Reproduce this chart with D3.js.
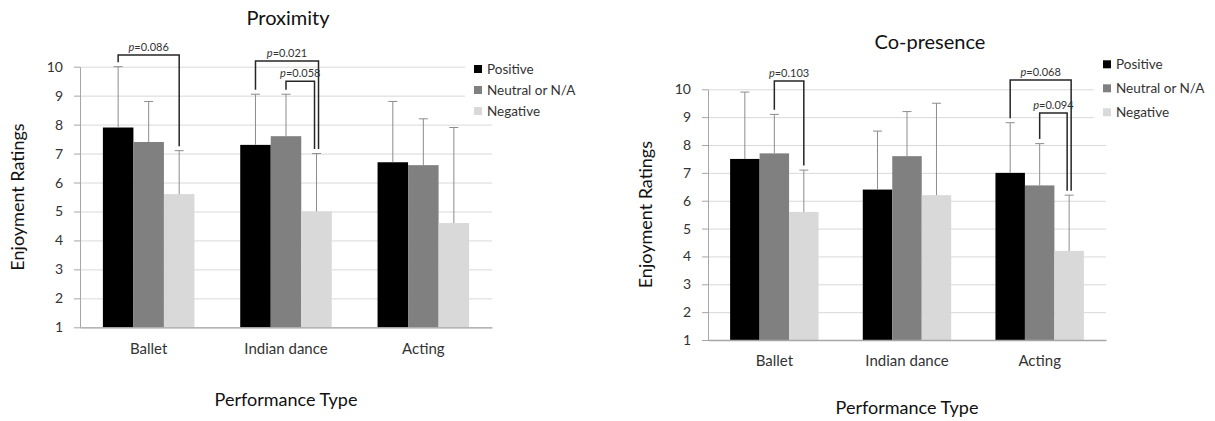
<!DOCTYPE html>
<html>
<head>
<meta charset="utf-8">
<script src="https://cdn.jsdelivr.net/npm/d3@7"></script>
<style>
body { margin:0; background:#ffffff; }
svg { display:block; font-family:Lato, "Open Sans", sans-serif; }
</style>
</head>
<body>
<svg id="chart" width="1215" height="421"></svg>
<script>

// --------------------------------
// data
// --------------------------------

var categories = ["Ballet", "Indian dance", "Acting"];
var seriesNames = ["Positive", "Neutral or N/A", "Negative"];
var yTicks = [1, 2, 3, 4, 5, 6, 7, 8, 9, 10];

// Proximity : mean rating per category, one value per series
var proximityMeans = [
	[7.9, 7.4, 5.6],
	[7.3, 7.6, 5.0],
	[6.7, 6.6, 4.6]
];
// upper error bar (SD)
var proximityErr = [
	[2.1, 1.4, 1.5],
	[1.75, 1.45, 2.0],
	[2.1, 1.6, 3.3]
];
// significance brackets, level in rating units
var proximityTests = [
	{group:"Ballet", from:"Positive", to:"Negative", level:10.4, p:"0.086"},
	{group:"Indian dance", from:"Positive", to:"Negative", level:10.2, p:"0.021"},
	{group:"Indian dance", from:"Neutral or N/A", to:"Negative", level:9.5, p:"0.058"}
];

// Co-presence
var copresenceMeans = [
	[7.5, 7.7, 5.6],
	[6.4, 7.6, 6.2],
	[7.0, 6.55, 4.2]
];
var copresenceErr = [
	[2.4, 1.4, 1.5],
	[2.1, 1.6, 3.3],
	[1.8, 1.5, 2.0]
];
var copresenceTests = [
	{group:"Ballet", from:"Neutral or N/A", to:"Negative", level:10.3, p:"0.103"},
	{group:"Acting", from:"Positive", to:"Negative", level:10.33, p:"0.068"},
	{group:"Acting", from:"Neutral or N/A", to:"Negative", level:9.15, p:"0.094"}
];

// --------------------------------
// styles
// --------------------------------

var barColors = ["#000000", "#808080", "#d9d9d9"];
var gridColor = "#d9d9d9";
var axisColor = "#a6a6a6";
var errColor = "#8c8c8c";
var textColor = "#333333";

var svg = d3.select("#chart");

// --------------------------------------------------
// draw one panel
// --------------------------------------------------

var drawPanel = function(opt){

	var g = svg.append("g");

	var x = d3.scaleBand()
		.domain(categories)
		.range([opt.left, opt.right])
		.paddingInner(1/3)
		.paddingOuter(1/6);

	var xs = d3.scaleBand()
		.domain(seriesNames)
		.range([0, x.bandwidth()]);

	var y = d3.scaleLinear()
		.domain([1, 10])
		.range([opt.bottom, opt.top]);

	// gridlines
	g.append("g")
		.attr("transform", "translate(" + opt.left + ",0)")
		.call(d3.axisLeft(y).tickValues(yTicks).tickSize(-(opt.right - opt.left)).tickFormat(""))
		.call(function(s){
			s.select(".domain").remove();
			s.selectAll("line").attr("stroke", gridColor);
		});

	// legend sits on a white box over the upper gridlines
	g.append("rect")
		.attr("x", opt.legendX - 9)
		.attr("y", opt.legendY - 13)
		.attr("width", 140)
		.attr("height", opt.legendStep * 2 + 22)
		.attr("fill", "#ffffff");

	seriesNames.forEach(function(name, i){
		var ly = opt.legendY + i * opt.legendStep;
		g.append("rect")
			.attr("x", opt.legendX)
			.attr("y", ly - 4)
			.attr("width", 8)
			.attr("height", 8)
			.attr("fill", barColors[i]);
		g.append("text")
			.attr("x", opt.legendX + 13)
			.attr("y", ly)
			.attr("dy", "0.35em")
			.attr("font-size", 13.5)
			.attr("fill", textColor)
			.text(name);
	});

	// y axis
	g.append("g")
		.attr("transform", "translate(" + opt.left + ",0)")
		.call(d3.axisLeft(y).tickValues(yTicks).tickSize(6).tickPadding(11).tickSizeOuter(0))
		.call(function(s){
			s.select(".domain").attr("stroke", axisColor);
			s.selectAll("line").attr("stroke", axisColor);
			s.selectAll("text").attr("font-size", 14).attr("fill", textColor).attr("font-family", "Lato");
		});

	// bars
	var groups = g.selectAll(".grp")
		.data(opt.means)
		.enter().append("g")
		.attr("transform", function(d, i){ return "translate(" + x(categories[i]) + ",0)"; });

	groups.selectAll("rect")
		.data(function(d){ return d; })
		.enter().append("rect")
		.attr("x", function(d, j){ return xs(seriesNames[j]); })
		.attr("y", function(d){ return y(d); })
		.attr("width", xs.bandwidth())
		.attr("height", function(d){ return y(1) - y(d); })
		.attr("fill", function(d, j){ return barColors[j]; });

	// x axis
	g.append("g")
		.attr("transform", "translate(0," + opt.bottom + ")")
		.call(d3.axisBottom(x).tickSize(0).tickPadding(opt.catPad).tickSizeOuter(0))
		.call(function(s){
			s.select(".domain").attr("stroke", axisColor).attr("stroke-width", 1.3);
			s.selectAll("text").attr("font-size", 15).attr("fill", textColor).attr("font-family", "Lato");
		});

	// error bars, upward only
	opt.means.forEach(function(row, i){
		row.forEach(function(m, j){
			var cx = x(categories[i]) + xs(seriesNames[j]) + xs.bandwidth() / 2;
			var yTop = y(m + opt.err[i][j]);
			g.append("line")
				.attr("x1", cx).attr("x2", cx)
				.attr("y1", y(m)).attr("y2", yTop)
				.attr("stroke", errColor);
			g.append("line")
				.attr("x1", cx - 4.5).attr("x2", cx + 4.5)
				.attr("y1", yTop).attr("y2", yTop)
				.attr("stroke", errColor);
		});
	});

	// significance brackets
	opt.tests.forEach(function(t){
		var gi = categories.indexOf(t.group);
		var a = seriesNames.indexOf(t.from);
		var b = seriesNames.indexOf(t.to);
		// nested brackets ending on the same bar are pushed apart a little
		var same = opt.tests.filter(function(o){ return o.group == t.group && o.to == t.to; })
			.sort(function(p, q){ return p.level - q.level; });
		var shift = same.length > 1 ? (same.indexOf(t) - (same.length - 1) / 2) * 4 : 0;
		var xa = x(t.group) + xs(t.from) + xs.bandwidth() / 2;
		var xb = x(t.group) + xs(t.to) + xs.bandwidth() / 2 + shift;
		var yl = y(t.level);
		var ya = y(opt.means[gi][a] + opt.err[gi][a]) - 4.5;
		var yb = y(opt.means[gi][b] + opt.err[gi][b]) - 4.5;
		g.append("path")
			.attr("d", "M" + xa + "," + ya + "V" + yl + "H" + xb + "V" + yb)
			.attr("fill", "none")
			.attr("stroke", "#262626")
			.attr("stroke-width", 1.5);
		var lbl = g.append("text")
			.attr("x", (xa + xb) / 2)
			.attr("y", yl - 4)
			.attr("text-anchor", "middle")
			.attr("font-size", 11)
			.attr("fill", textColor);
		lbl.append("tspan").attr("font-style", "italic").text("p");
		lbl.append("tspan").text("=" + t.p);
	});

	// titles
	g.append("text")
		.attr("x", opt.titleX)
		.attr("y", opt.titleY)
		.attr("text-anchor", "middle")
		.attr("font-size", 20)
		.attr("fill", "#111111")
		.text(opt.title);

	g.append("text")
		.attr("transform", "translate(" + opt.yTitleX + "," + ((opt.top + opt.bottom) / 2) + ") rotate(-90)")
		.attr("text-anchor", "middle")
		.attr("dy", "0.35em")
		.attr("font-size", 18)
		.attr("fill", "#111111")
		.text("Enjoyment Ratings");

	g.append("text")
		.attr("x", (opt.left + opt.right) / 2)
		.attr("y", opt.xTitleY)
		.attr("text-anchor", "middle")
		.attr("font-size", 18)
		.attr("fill", "#111111")
		.text("Performance Type");
};

drawPanel({
	title:"Proximity", means:proximityMeans, err:proximityErr, tests:proximityTests,
	left:80, right:492, top:66.7, bottom:327.3,
	titleX:288, titleY:25, yTitleX:18, xTitleY:406, catPad:16,
	legendX:474, legendY:69, legendStep:21
});

drawPanel({
	title:"Co-presence", means:copresenceMeans, err:copresenceErr, tests:copresenceTests,
	left:708, right:1106, top:89.3, bottom:340,
	titleX:930, titleY:49, yTitleX:646, xTitleY:414, catPad:15,
	legendX:1103, legendY:64.3, legendStep:24
});

</script>
</body>
</html>
